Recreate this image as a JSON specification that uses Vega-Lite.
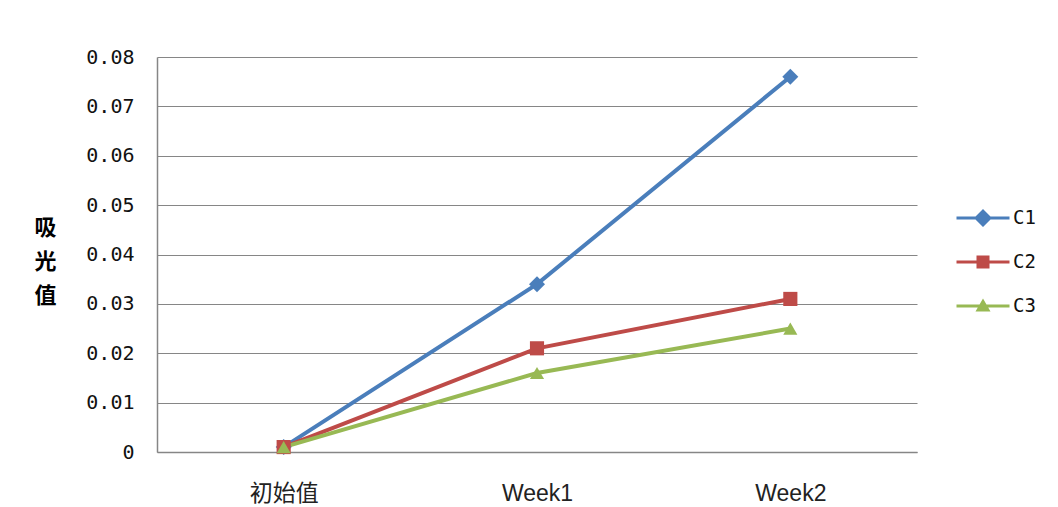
{
  "$schema": "https://vega.github.io/schema/vega-lite/v6.json",
  "autosize": {"type": "none"},
  "padding": {"left": 157, "top": 57, "right": 141, "bottom": 55},
  "width": 760,
  "height": 395,
  "background": "white",
  "data": {
    "values": [
      {"time": "初始值", "series": "C1", "value": 0.001},
      {"time": "Week1", "series": "C1", "value": 0.034},
      {"time": "Week2", "series": "C1", "value": 0.076},
      {"time": "初始值", "series": "C2", "value": 0.001},
      {"time": "Week1", "series": "C2", "value": 0.021},
      {"time": "Week2", "series": "C2", "value": 0.031},
      {"time": "初始值", "series": "C3", "value": 0.001},
      {"time": "Week1", "series": "C3", "value": 0.016},
      {"time": "Week2", "series": "C3", "value": 0.025}
    ]
  },
  "encoding": {
    "x": {
      "field": "time",
      "type": "nominal",
      "sort": ["初始值", "Week1", "Week2"],
      "scale": {"type": "point", "padding": 0.5},
      "axis": {
        "title": null,
        "labelAngle": 0,
        "labelFont": "Liberation Sans, Noto Sans CJK SC",
        "labelFontSize": 23,
        "labelColor": "#222222",
        "labelPadding": 30,
        "labelBaseline": "top",
        "ticks": false,
        "domain": true,
        "domainColor": "#868686",
        "domainWidth": 1.5,
        "grid": false
      }
    },
    "y": {
      "field": "value",
      "type": "quantitative",
      "scale": {"domain": [0, 0.08], "nice": false},
      "axis": {
        "values": [0, 0.01, 0.02, 0.03, 0.04, 0.05, 0.06, 0.07, 0.08],
        "format": ".2~f",
        "labelFont": "DejaVu Sans Mono",
        "labelFontSize": 20,
        "labelColor": "#111111",
        "labelPadding": 23,
        "ticks": false,
        "domain": true,
        "domainColor": "#868686",
        "domainWidth": 1.5,
        "grid": true,
        "gridColor": "#868686",
        "gridWidth": 1.2,
        "title": ["吸", "光", "值"],
        "titleAngle": 0,
        "titleFont": "Noto Sans CJK SC",
        "titleFontSize": 22,
        "titleFontWeight": "bold",
        "titleColor": "#000000",
        "titleLineHeight": 34,
        "titleAlign": "center",
        "titleBaseline": "middle",
        "titleX": -112,
        "titleY": 170
      }
    },
    "color": {
      "field": "series",
      "type": "nominal",
      "scale": {"domain": ["C1", "C2", "C3"], "range": ["#4a7ebb", "#be4b48", "#98b954"]},
      "legend": {
        "title": null,
        "orient": "none",
        "legendX": 816,
        "legendY": 151,
        "padding": 0,
        "symbolSize": 400,
        "symbolStrokeWidth": 0,
        "labelFont": "DejaVu Sans Mono",
        "labelFontSize": 19,
        "labelColor": "#111111",
        "labelOffset": 20,
        "rowPadding": 24,
        "encode": {
          "symbols": {
            "update": {
              "shape": {"signal": "datum.value === 'C1' ? 'M-2.65,-0.15H2.65V0.15H-2.65ZM0,-0.9L0.9,0L0,0.9L-0.9,0Z' : datum.value === 'C2' ? 'M-2.65,-0.15H2.65V0.15H-2.65ZM-0.65,-0.65H0.65V0.65H-0.65Z' : 'M-2.65,-0.15H2.65V0.15H-2.65ZM0,-0.75L0.75,0.55H-0.75Z'"},
              "size": {"value": 400},
              "fill": {"signal": "scale('color', datum.value)"},
              "fillOpacity": {"value": 1},
              "strokeWidth": {"value": 0}
            }
          }
        }
      }
    }
  },
  "layer": [
    {
      "mark": {"type": "line", "strokeWidth": 4},
      "encoding": {"detail": {"field": "series"}}
    },
    {
      "transform": [{"filter": "datum.series === 'C1'"}],
      "mark": {"type": "point", "filled": true, "opacity": 1, "shape": "diamond", "size": 256}
    },
    {
      "transform": [{"filter": "datum.series === 'C2'"}],
      "mark": {"type": "point", "filled": true, "opacity": 1, "shape": "square", "size": 200}
    },
    {
      "transform": [{"filter": "datum.series === 'C3'"}],
      "mark": {"type": "point", "filled": true, "opacity": 1, "shape": "triangle-up", "size": 200}
    }
  ],
  "config": {
    "view": {"stroke": null}
  }
}
